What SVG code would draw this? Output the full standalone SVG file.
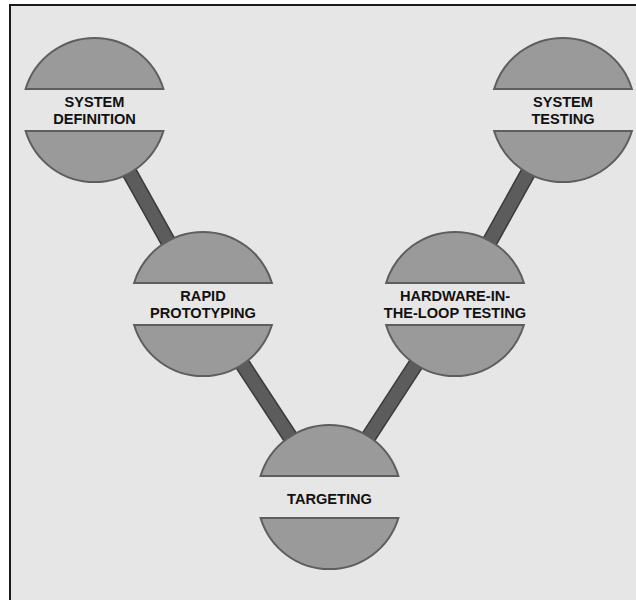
<svg xmlns="http://www.w3.org/2000/svg" width="636" height="600" viewBox="0 0 636 600">
<defs>
<style>
.bar{stroke:#3a3a3a;stroke-width:16;stroke-linecap:butt}
.barin{stroke:#5c5c5c;stroke-width:13;stroke-linecap:butt}
.seg{fill:#9a9a9a;stroke:#5e5e5e;stroke-width:2}
.band{fill:#e6e6e6}
.lbl{font-family:"Liberation Sans",Arial,sans-serif;font-weight:bold;font-size:14.6px;fill:#111;text-anchor:middle}
</style>
</defs>
<rect x="0" y="0" width="636" height="600" fill="#ffffff"/>
<rect x="10" y="5" width="640" height="610" fill="#e6e6e6" stroke="#1a1a1a" stroke-width="2"/>
<g id="connectors">
<line class="bar" x1="94.5" y1="110" x2="203" y2="304"/>
<line class="bar" x1="203" y1="304" x2="329.5" y2="497"/>
<line class="bar" x1="329.5" y1="497" x2="455" y2="304"/>
<line class="bar" x1="455" y1="304" x2="563" y2="110"/>
<line class="barin" x1="94.5" y1="110" x2="203" y2="304"/>
<line class="barin" x1="203" y1="304" x2="329.5" y2="497"/>
<line class="barin" x1="329.5" y1="497" x2="455" y2="304"/>
<line class="barin" x1="455" y1="304" x2="563" y2="110"/>
</g>
<g id="system-definition" transform="translate(94.5,110)">
<path class="seg" d="M-68.9,-21 A72,72 0 0 1 68.9,-21 Z"/>
<path class="seg" d="M-68.9,21 A72,72 0 0 0 68.9,21 Z"/>
<rect class="band" x="-73" y="-20" width="146" height="40"/>
<text class="lbl" x="0" y="-3">SYSTEM</text>
<text class="lbl" x="0" y="14">DEFINITION</text>
</g>
<g id="rapid-prototyping" transform="translate(203,304)">
<path class="seg" d="M-68.9,-21 A72,72 0 0 1 68.9,-21 Z"/>
<path class="seg" d="M-68.9,21 A72,72 0 0 0 68.9,21 Z"/>
<rect class="band" x="-73" y="-20" width="146" height="40"/>
<text class="lbl" x="0" y="-3">RAPID</text>
<text class="lbl" x="0" y="14">PROTOTYPING</text>
</g>
<g id="targeting" transform="translate(329.5,497)">
<path class="seg" d="M-68.9,-21 A72,72 0 0 1 68.9,-21 Z"/>
<path class="seg" d="M-68.9,21 A72,72 0 0 0 68.9,21 Z"/>
<rect class="band" x="-73" y="-20" width="146" height="40"/>
<text class="lbl" x="0" y="7">TARGETING</text>
</g>
<g id="hardware-in-the-loop-testing" transform="translate(455,304)">
<path class="seg" d="M-68.9,-21 A72,72 0 0 1 68.9,-21 Z"/>
<path class="seg" d="M-68.9,21 A72,72 0 0 0 68.9,21 Z"/>
<rect class="band" x="-73" y="-20" width="146" height="40"/>
<text class="lbl" x="0" y="-3">HARDWARE-IN-</text>
<text class="lbl" x="0" y="14">THE-LOOP TESTING</text>
</g>
<g id="system-testing" transform="translate(563,110)">
<path class="seg" d="M-68.9,-21 A72,72 0 0 1 68.9,-21 Z"/>
<path class="seg" d="M-68.9,21 A72,72 0 0 0 68.9,21 Z"/>
<rect class="band" x="-73" y="-20" width="146" height="40"/>
<text class="lbl" x="0" y="-3">SYSTEM</text>
<text class="lbl" x="0" y="14">TESTING</text>
</g>
</svg>
